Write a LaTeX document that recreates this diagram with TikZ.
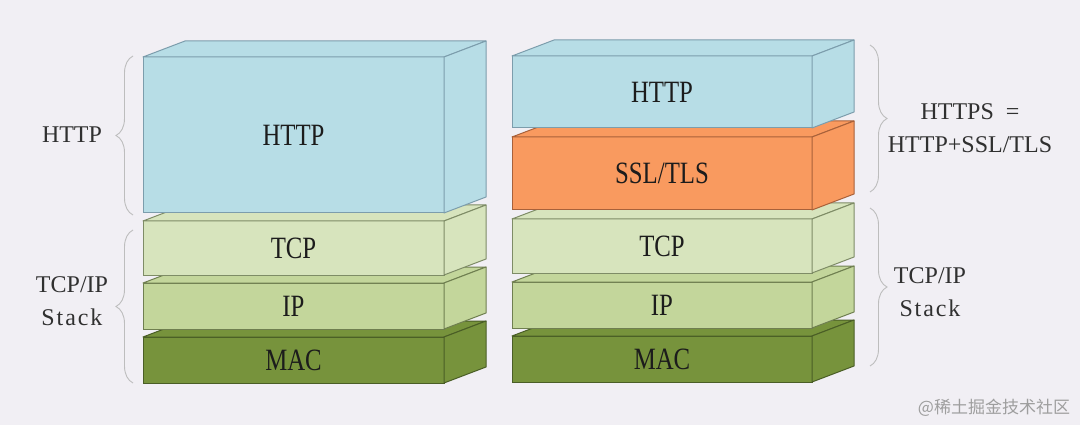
\documentclass[tikz,border=0pt]{standalone}
\usepackage{fontspec}
\setmainfont{Liberation Serif}
\newfontfamily\boxfont[FakeStretch=0.8]{Liberation Serif}
\newfontfamily\cjkfont{Noto Sans CJK SC}
\usetikzlibrary{decorations.pathreplacing}
\definecolor{bg}{HTML}{F1EFF4}
\definecolor{httpc}{HTML}{B7DDE6}
\definecolor{httpe}{HTML}{7C9DAC}
\definecolor{sslc}{HTML}{F99A5F}
\definecolor{ssle}{HTML}{A8613A}
\definecolor{tcpc}{HTML}{D7E4BD}
\definecolor{tcpe}{HTML}{7E8C66}
\definecolor{ipc}{HTML}{C3D69B}
\definecolor{ipe}{HTML}{6F7F50}
\definecolor{macc}{HTML}{77933C}
\definecolor{mace}{HTML}{4A5E26}
\definecolor{bracec}{HTML}{BDBDBD}
\definecolor{txt}{HTML}{1C1C1C}
\definecolor{sidetxt}{HTML}{303030}
\tikzset{
  front/.style={inner sep=0pt, outer sep=0pt, line width=1pt, text=txt,
    font=\boxfont\fontsize{31}{36}\selectfont},
  face/.style={line width=1pt, line join=round},
  httpL/.style={fill=httpc, draw=httpe},
  sslL/.style={fill=sslc, draw=ssle},
  tcpL/.style={fill=tcpc, draw=tcpe},
  ipL/.style={fill=ipc, draw=ipe},
  macL/.style={fill=macc, draw=mace},
  curly/.style={decorate, decoration={brace, amplitude=17pt}, draw=bracec, line width=0.9pt},
  side/.style={text=sidetxt, align=center, font=\rmfamily\fontsize{24}{33}\selectfont},
  mark text/.style={text=black!38, font=\cjkfont\fontsize{17}{20}\selectfont}
}
\newcommand\drawlayer[7]{%
  \node[front,#6,draw,minimum width=#4pt,minimum height=#5pt] (#1) at (#2,#3) {#7};
  \draw[#6,face] (#1.north west) -- ([shift={(42,-16)}]#1.north west) -- ([shift={(42,-16)}]#1.north east) -- (#1.north east) -- cycle;
  \draw[#6,face] (#1.north east) -- ([shift={(42,-16)}]#1.north east) -- ([shift={(42,-16)}]#1.south east) -- (#1.south east) -- cycle;
}
\begin{document}
\begin{tikzpicture}[x=1pt,y=-1pt]
\fill[bg] (0,0) rectangle (1080,425);
\useasboundingbox (0,0) rectangle (1080,425);
% left stack (bottom up)
\drawlayer{lmac}{293.5}{360}{301}{46}{macL}{MAC}
\drawlayer{lip}{293.5}{306}{301}{46}{ipL}{IP}
\drawlayer{ltcp}{293.5}{248}{301}{54}{tcpL}{TCP}
\drawlayer{lhttp}{293.5}{135}{301}{156}{httpL}{HTTP}
% right stack (bottom up)
\drawlayer{rmac}{662}{359}{300}{46}{macL}{MAC}
\drawlayer{rip}{662}{305}{300}{46}{ipL}{IP}
\drawlayer{rtcp}{662}{246}{300}{54}{tcpL}{TCP}
\drawlayer{rssl}{662}{173.5}{300}{73}{sslL}{SSL/TLS}
\drawlayer{rhttp}{662}{92}{300}{72}{httpL}{HTTP}
% braces
\coordinate (lb1) at (133,215);
\coordinate (lt1) at (133,56);
\coordinate (lb2) at (133,383);
\coordinate (lt2) at (133,230);
\coordinate (rt1) at (870,45);
\coordinate (rb1) at (870,192);
\coordinate (rt2) at (870,208);
\coordinate (rb2) at (870,366);
\draw[curly] (lb1) -- (lt1);
\draw[curly] (lb2) -- (lt2);
\draw[curly] (rt1) -- (rb1);
\draw[curly] (rt2) -- (rb2);
% labels
\node[side] (lhttplabel) at (72,135) {HTTP};
\node[side] (lstacklabel) at (72,301) {TCP/IP\\\addfontfeature{LetterSpace=8}Stack};
\node[side] (httpslabel) at (970,128) {HTTPS\ \ =\\HTTP+SSL/TLS};
\node[side] (rstacklabel) at (930,292) {TCP/IP\\\addfontfeature{LetterSpace=8}Stack};
\node[mark text] (wm) at (994,408) {@稀土掘金技术社区};
\end{tikzpicture}
\end{document}
